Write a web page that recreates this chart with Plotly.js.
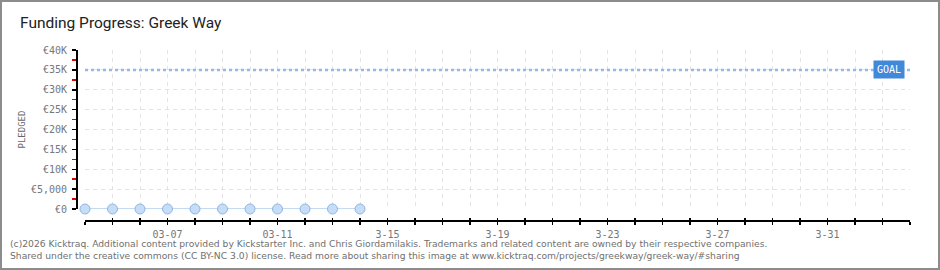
<!DOCTYPE html>
<html>
<head>
<meta charset="utf-8">
<script src="https://cdn.plot.ly/plotly-3.0.1.min.js"></script>
<style>
html,body{margin:0;padding:0;background:#fff;}
#chart{width:936px;height:266px;border:2px solid #8c8c8c;}
</style>
</head>
<body>
<div id="chart"></div>
<script>
// ---- data ----
const dates = ["2026-03-04","2026-03-05","2026-03-06","2026-03-07","2026-03-08","2026-03-09","2026-03-10","2026-03-11","2026-03-12","2026-03-13","2026-03-14"];
const pledged = [0,0,0,0,0,0,0,0,0,0,0];
const goalDates = ["2026-03-04","2026-04-03"];
const goalValues = [35000,35000];
const xRange = ["2026-03-04","2026-04-03"];
const xTickVals = ["2026-03-07","2026-03-11","2026-03-15","2026-03-19","2026-03-23","2026-03-27","2026-03-31"];
const xTickText = ["03-07","03-11","3-15","3-19","3-23","3-27","3-31"];
const yTickVals = [0,5000,10000,15000,20000,25000,30000,35000,40000];
const yTickText = ["€0","€5,000","€10K","€15K","€20K","€25K","€30K","€35K","€40K"];
const titleText = "Funding Progress: Greek Way";
const yTitle = "PLEDGED";
const footer1 = "(c)2026 Kicktraq. Additional content provided by Kickstarter Inc. and Chris Giordamilakis. Trademarks and related content are owned by their respective companies.";
const footer2 = "Shared under the creative commons (CC BY-NC 3.0) license. Read more about sharing this image at www.kicktraq.com/projects/greekway/greek-way/#sharing";

const DAY = 86400000;
const tickFont = {family:"DejaVu Sans Mono, monospace", size:10, color:"#777"};
const GRID = "#e3e3e3";
const GDASH = "4px,4px";

const traces = [
  {
    x: goalDates, y: goalValues, mode: "lines", type: "scatter",
    line: {color:"#94b9e6", width:2.5, dash:"dot"}, hoverinfo:"skip", cliponaxis:false
  },
  {
    x: dates, y: pledged, mode: "lines+markers", type: "scatter",
    line: {color:"#c3daf5", width:2},
    marker: {size:10, color:"#c6ddf7", line:{color:"#93b5df", width:1}},
    cliponaxis:false
  },
  {
    x: dates, y: pledged, xaxis:"x2", mode:"markers", type:"scatter",
    opacity:0, hoverinfo:"skip"
  }
];

const layout = {
  width: 936, height: 266,
  margin: {l:74, r:28, t:48, b:48},
  paper_bgcolor:"#fff", plot_bgcolor:"#fff",
  showlegend:false,
  title: {
    text: titleText, x: 18/936, xanchor:"left", xref:"container",
    y: 1-21/266, yanchor:"middle", yref:"container",
    font: {family:"Roboto, DejaVu Sans", size:15.5, color:"#222"}
  },
  xaxis: {
    type:"date", range:xRange, domain:[9/834, 1],
    anchor:"free", position:0,
    showline:true, linecolor:"#000", linewidth:1.5,
    tickmode:"array", tickvals:xTickVals, ticktext:xTickText,
    ticks:"outside", ticklen:3, tickcolor:"#000", tickwidth:1.5,
    tickfont: tickFont, ticklabelstandoff:1,
    showgrid:true, gridcolor:GRID, griddash:GDASH, gridwidth:1,
    minor: {dtick:DAY, tick0:"2026-03-04", ticks:"outside", ticklen:3, tickcolor:"#000", tickwidth:1.5,
            showgrid:true, gridcolor:GRID, griddash:GDASH, gridwidth:1},
    zeroline:false, fixedrange:true
  },
  xaxis2: {
    type:"date", overlaying:"x", matches:"x", domain:[9/834,1],
    anchor:"free", position:0,
    showline:false, showticklabels:false,
    tickmode:"array", tickvals:xTickVals,
    ticks:"inside", ticklen:2, tickcolor:"#000", tickwidth:1.5,
    showgrid:false,
    minor: {dtick:DAY, tick0:"2026-03-04", ticks:"inside", ticklen:2, tickcolor:"#000", tickwidth:1.5, showgrid:false}
  },
  yaxis: {
    range:[0,40000], domain:[11/170, 1],
    anchor:"free", position:0,
    showline:true, linecolor:"#000", linewidth:1.5,
    tickmode:"array", tickvals:yTickVals, ticktext:yTickText,
    ticks:"outside", ticklen:4, tickcolor:"#000", tickwidth:1.5,
    tickfont: tickFont, ticklabelstandoff:3,
    showgrid:true, gridcolor:GRID, griddash:GDASH, gridwidth:1,
    minor: {dtick:2500, tick0:0, ticks:"outside", ticklen:4, tickcolor:"#e00000", tickwidth:1.5, showgrid:false},
    zeroline:false, fixedrange:true,
    title: {text:yTitle, standoff:2, font:{family:"DejaVu Sans Mono, monospace", size:9, color:"#666"}}
  },
  annotations: [
    {
      xref:"x", yref:"y", x:goalDates[1], y:goalValues[1], text:"GOAL",
      xanchor:"right", yanchor:"middle", xshift:-5, showarrow:false,
      bgcolor:"#4088d9", borderpad:3, font:{family:"DejaVu Sans Mono, monospace", size:10, color:"#fff"}
    },
    {
      xref:"paper", yref:"paper", x:-68/834, y:-(243-220)/170, xanchor:"left", yanchor:"middle",
      text:footer1, showarrow:false, font:{family:"DejaVu Sans, Verdana", size:9.2, color:"#707070"}
    },
    {
      xref:"paper", yref:"paper", x:-68/834, y:-(256-220)/170, xanchor:"left", yanchor:"middle",
      text:footer2, showarrow:false, font:{family:"DejaVu Sans, Verdana", size:9.2, color:"#707070"}
    }
  ]
};

Plotly.newPlot("chart", traces, layout, {displayModeBar:false, staticPlot:true});
</script>
</body>
</html>
